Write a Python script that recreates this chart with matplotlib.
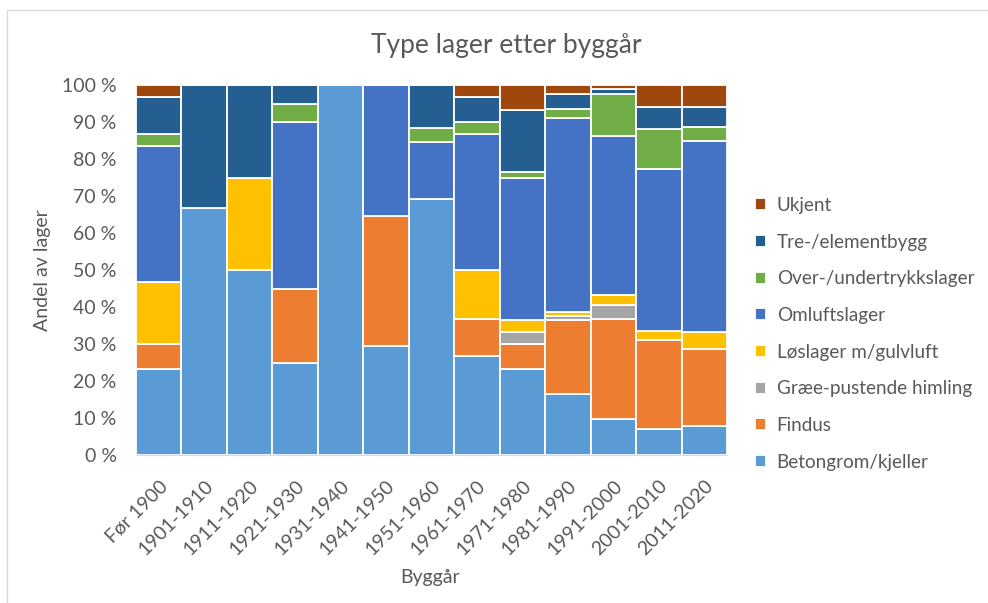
import numpy as np
import matplotlib as mp
mp.use('Agg')
import matplotlib.pyplot as plt
from matplotlib.patches import Rectangle

plt.rcParams['font.family'] = ['Lato', 'DejaVu Sans']

# data (share in %)
periods = ['Før 1900', '1901-1910', '1911-1920', '1921-1930', '1931-1940', '1941-1950',
           '1951-1960', '1961-1970', '1971-1980', '1981-1990', '1991-2000', '2001-2010', '2011-2020']

betong = [23.3, 66.7, 50.0, 25.0, 100.0, 29.4, 69.2, 26.7, 23.3, 16.5, 9.6, 7.0, 7.9]
findus = [6.7, 0, 0, 20.0, 0, 35.3, 0, 10.0, 6.7, 20.0, 27.2, 24.1, 20.7]
graee = [0, 0, 0, 0, 0, 0, 0, 0, 3.3, 1.2, 3.7, 0, 0]
loslager = [16.7, 0, 25.0, 0, 0, 0, 0, 13.3, 3.3, 1.0, 2.7, 2.4, 4.6]
omluft = [36.7, 0, 0, 45.0, 0, 35.3, 15.4, 36.7, 38.3, 52.3, 43.1, 43.7, 51.7]
overunder = [3.3, 0, 0, 5.0, 0, 0, 3.8, 3.3, 1.7, 2.4, 11.2, 10.9, 3.8]
treelement = [10.0, 33.3, 25.0, 5.0, 0, 0, 11.6, 6.7, 16.7, 4.3, 1.4, 5.9, 5.3]
ukjent = [3.3, 0, 0, 0, 0, 0, 0, 3.3, 6.7, 2.3, 1.1, 6.0, 6.0]

series = [
    ('Betongrom/kjeller', betong, '#5B9BD5'),
    ('Findus', findus, '#ED7D31'),
    ('Græe-pustende himling', graee, '#A5A5A5'),
    ('Løslager m/gulvluft', loslager, '#FFC000'),
    ('Omluftslager', omluft, '#4472C4'),
    ('Over-/undertrykkslager', overunder, '#70AD47'),
    ('Tre-/elementbygg', treelement, '#255E91'),
    ('Ukjent', ukjent, '#9E480E'),
]

txt = '#595959'

fig = plt.figure(figsize=(9.88, 6.03), dpi=100)
fig.patches.append(Rectangle((7 / 988, -0.01), 1.0, 1 - 10 / 603 + 0.01, transform=fig.transFigure,
                             fill=False, edgecolor='#D9D9D9', linewidth=1.0))
ax = fig.add_axes([136 / 988, 148 / 603, 591 / 988, 370 / 603])

x = np.arange(len(periods))
bottom = np.zeros(len(periods))
handles = []
for name, vals, col in series:
    v = np.array(vals, dtype=float)
    b = ax.bar(x, v, width=1.0, bottom=bottom, color=col, edgecolor='white', linewidth=1.3, label=name)
    handles.append(b)
    bottom += v

ax.set_xlim(-0.5, len(periods) - 0.5)
ax.set_ylim(0, 100)
ax.set_yticks(np.arange(0, 101, 10))
ax.set_yticklabels(['{} %'.format(t) for t in range(0, 101, 10)])
ax.set_xticks(x)
ax.set_xticklabels(periods, rotation=45, ha='right', rotation_mode='anchor')
ax.tick_params(axis='both', length=0, labelsize=14, colors=txt)
ax.tick_params(axis='y', pad=14)
ax.tick_params(axis='x', pad=16)
for s in ['top', 'right', 'left']:
    ax.spines[s].set_visible(False)
ax.spines['bottom'].set_color('#D9D9D9')

ax.set_ylabel('Andel av lager', fontsize=14, color=txt, labelpad=8)
fig.text(430 / 988, 1 - 577 / 603, 'Byggår', fontsize=14, color=txt, ha='center', va='center')
fig.text(506 / 988, 1 - 45 / 603, 'Type lager etter byggår', fontsize=19, color=txt, ha='center', va='center')

fig.legend(handles[::-1], [s[0] for s in series][::-1], loc='upper left',
           bbox_to_anchor=(755 / 988, 1 - 197 / 603), frameon=False, fontsize=13.6,
           borderpad=0, borderaxespad=0,
           handlelength=0.6, handleheight=0.6, handletextpad=0.55, labelspacing=1.04,
           labelcolor=txt)

fig.savefig('out.png', dpi=100)
